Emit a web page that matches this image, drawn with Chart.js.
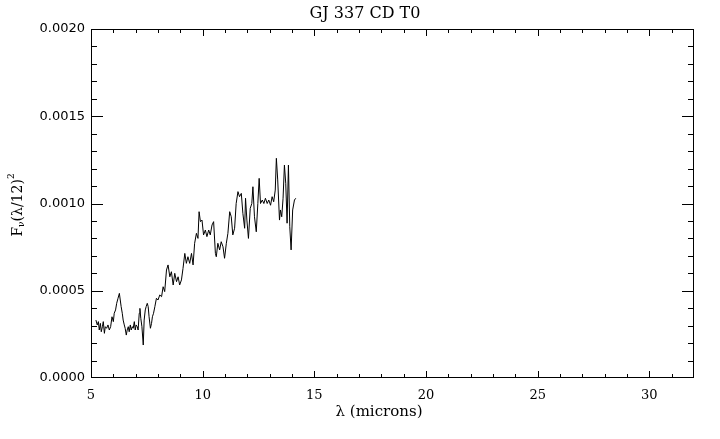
<!DOCTYPE html>
<html>
<head>
<meta charset="utf-8">
<script src="https://cdn.jsdelivr.net/npm/chart.js@4"></script>
<style>
  html, body { margin: 0; padding: 0; background: #fff; }
  #wrap { width: 720px; height: 439px; }
</style>
</head>
<body>
<div id="wrap"><canvas id="myChart" width="720" height="439"></canvas></div>
<script>
// wavelength (microns) and flux
const lambda = [5.22, 5.28, 5.33, 5.37, 5.42, 5.46, 5.51, 5.55, 5.60, 5.64, 5.70, 5.76, 5.82, 5.88, 5.94, 6.00,
  6.04, 6.10, 6.15, 6.21, 6.27, 6.31, 6.35, 6.40, 6.44, 6.49, 6.53, 6.58, 6.62, 6.67, 6.71, 6.76, 6.80,
  6.85, 6.89, 6.94, 6.98, 7.02, 7.07, 7.11, 7.16, 7.19, 7.23, 7.28, 7.34, 7.38, 7.43, 7.47, 7.52, 7.56,
  7.60, 7.66, 7.71, 7.75, 7.80,
  7.86, 7.93, 8.00, 8.08, 8.16, 8.23, 8.30, 8.38, 8.45, 8.53, 8.60, 8.68, 8.75, 8.83, 8.90, 8.97, 9.05,
  9.12, 9.20, 9.27, 9.34, 9.42, 9.50, 9.57, 9.64, 9.72, 9.79, 9.84, 9.90, 9.97, 10.04, 10.12, 10.19,
  10.27, 10.34, 10.42, 10.49, 10.57, 10.61, 10.68, 10.76, 10.83, 10.91, 10.98, 11.06, 11.13, 11.21,
  11.28, 11.35, 11.43, 11.50, 11.58, 11.65, 11.73, 11.80, 11.88, 11.92, 11.98, 12.05, 12.13, 12.20,
  12.25, 12.32, 12.40, 12.47, 12.53, 12.59, 12.67, 12.74, 12.81, 12.89, 12.96, 13.04, 13.11, 13.18,
  13.25, 13.30, 13.36, 13.44, 13.48, 13.54, 13.60, 13.66, 13.72, 13.78, 13.84, 13.90, 13.96, 14.03,
  14.11, 14.17];
const flux = [0.000332, 0.000304, 0.000323, 0.000275, 0.000313, 0.000265, 0.000294, 0.000323, 0.000256,
  0.000294, 0.000285, 0.000304, 0.000275, 0.000294, 0.000351, 0.000323, 0.000371, 0.000390, 0.000428,
  0.000457, 0.000485, 0.000447, 0.000409, 0.000371, 0.000332, 0.000304, 0.000285, 0.000246, 0.000275,
  0.000294, 0.000265, 0.000304, 0.000275, 0.000294, 0.000285, 0.000323, 0.000275, 0.000304, 0.000294,
  0.000275, 0.000371, 0.000399, 0.000342, 0.000294, 0.000189, 0.000332, 0.000390, 0.000409, 0.000428,
  0.000409, 0.000351, 0.000285, 0.000313, 0.000351, 0.000371,
  0.000409, 0.000457, 0.000447, 0.000476, 0.000466, 0.000523, 0.000495, 0.000619, 0.000648, 0.000580,
  0.000609, 0.000533, 0.000600, 0.000552, 0.000580, 0.000533, 0.000562, 0.000628, 0.000714, 0.000657,
  0.000695, 0.000657, 0.000714, 0.000648, 0.000772, 0.000829, 0.000800, 0.000953, 0.000896, 0.000905,
  0.000820, 0.000848, 0.000810, 0.000848, 0.000820, 0.000877, 0.000896, 0.000714, 0.000695, 0.000772,
  0.000734, 0.000781, 0.000752, 0.000686, 0.000772, 0.000829, 0.000953, 0.000924, 0.000820, 0.000858,
  0.001000, 0.001068, 0.001039, 0.001058, 0.000944, 0.000858, 0.001030, 0.000905, 0.000800, 0.000972,
  0.001000, 0.001096, 0.000924, 0.000838, 0.001000, 0.001144, 0.001000, 0.001020, 0.001000, 0.001030,
  0.001000, 0.001020, 0.000990, 0.001039, 0.001010, 0.001077, 0.001259, 0.001135, 0.000905, 0.000963,
  0.000924, 0.001030, 0.001220, 0.001116, 0.000887, 0.001220, 0.000867, 0.000734, 0.000963, 0.001020,
  0.001030];

const xTicks = [5, 10, 15, 20, 25, 30];
const yTicks = [0.0000, 0.0005, 0.0010, 0.0015, 0.0020];
const xMinor = 1;       // micron
const yMinor = 0.0001;

const chartTitle = 'GJ 337 CD T0';
const xTitle = '\u03bb (microns)';

// draws box, inward ticks on all sides and the titles (IDL style)
const idlFrame = {
  id: 'idlFrame',
  afterDraw(chart) {
    const ctx = chart.ctx;
    const a = chart.chartArea;
    const xs = chart.scales.x, ys = chart.scales.y;
    ctx.save();
    ctx.strokeStyle = '#000';
    ctx.lineWidth = 1;
    ctx.strokeRect(a.left + 0.5, a.top + 0.5, a.right - a.left - 1, a.bottom - a.top - 1);

    const xMaj = 7, xMin = 4, yMaj = 12, yMin = 6;
    ctx.beginPath();
    for (let v = xs.min + xMinor; v < xs.max - 1e-9; v += xMinor) {
      const px = Math.round(xs.getPixelForValue(v)) + 0.5;
      const len = xTicks.includes(Math.round(v * 1000) / 1000) ? xMaj : xMin;
      ctx.moveTo(px, a.bottom); ctx.lineTo(px, a.bottom - len);
      ctx.moveTo(px, a.top); ctx.lineTo(px, a.top + len);
    }
    for (let i = 1; i * yMinor < ys.max - 1e-12; i++) {
      const py = Math.round(ys.getPixelForValue(i * yMinor)) + 0.5;
      const len = (i % 5 === 0) ? yMaj : yMin;
      ctx.moveTo(a.left, py); ctx.lineTo(a.left + len, py);
      ctx.moveTo(a.right, py); ctx.lineTo(a.right - len, py);
    }
    ctx.stroke();

    ctx.fillStyle = '#000';
    ctx.textAlign = 'center';
    ctx.textBaseline = 'middle';
    ctx.font = '16px "DejaVu Serif"';
    ctx.fillText(chartTitle, 365, 14);
    ctx.font = '15px "DejaVu Serif"';
    ctx.fillText(xTitle, 379, 412);

    // y title: F_nu (lambda/12)^2, rotated
    ctx.translate(18, 205);
    ctx.rotate(-Math.PI / 2);
    const parts = [
      { t: 'F', f: '14px "DejaVu Serif"', dy: 0 },
      { t: '\u03bd', f: '9px "DejaVu Serif"', dy: 4 },
      { t: '(\u03bb/12)', f: '14px "DejaVu Serif"', dy: 0 },
      { t: '2', f: '9px "DejaVu Serif"', dy: -6 }
    ];
    let total = 0;
    parts.forEach(p => { ctx.font = p.f; p.w = ctx.measureText(p.t).width; total += p.w; });
    let cx = -total / 2;
    ctx.textAlign = 'left';
    parts.forEach(p => { ctx.font = p.f; ctx.fillText(p.t, cx, p.dy); cx += p.w; });
    ctx.restore();
  }
};

const ctx = document.getElementById('myChart').getContext('2d');
const chart = new Chart(ctx, {
  type: 'line',
  data: {
    datasets: [{
      data: lambda.map((l, i) => ({ x: l, y: flux[i] })),
      borderColor: '#000',
      borderWidth: 1,
      pointRadius: 0,
      tension: 0,
      fill: false
    }]
  },
  options: {
    responsive: false,
    animation: false,
    devicePixelRatio: 1,
    layout: { padding: { left: 0, right: 26, top: 29, bottom: 0 } },
    plugins: { legend: { display: false }, tooltip: { enabled: false } },
    scales: {
      x: {
        type: 'linear',
        min: 5,
        max: 32,
        grid: { display: false, drawTicks: false },
        border: { display: false },
        afterBuildTicks: (s) => { s.ticks = xTicks.map(v => ({ value: v })); },
        afterFit: (s) => { s.height = 61; },
        ticks: {
          color: '#000',
          padding: 10,
          maxRotation: 0,
          font: { family: 'DejaVu Serif', size: 13 },
          callback: (v) => String(v)
        }
      },
      y: {
        min: 0,
        max: 0.002,
        grid: { display: false, drawTicks: false },
        border: { display: false },
        afterBuildTicks: (s) => { s.ticks = yTicks.map(v => ({ value: v })); },
        afterFit: (s) => { s.width = 91; },
        ticks: {
          color: '#000',
          padding: 6,
          font: { family: 'DejaVu Sans', size: 13 },
          callback: (v) => Number(v).toFixed(4)
        }
      }
    }
  },
  plugins: [idlFrame]
});
</script>
</body>
</html>
